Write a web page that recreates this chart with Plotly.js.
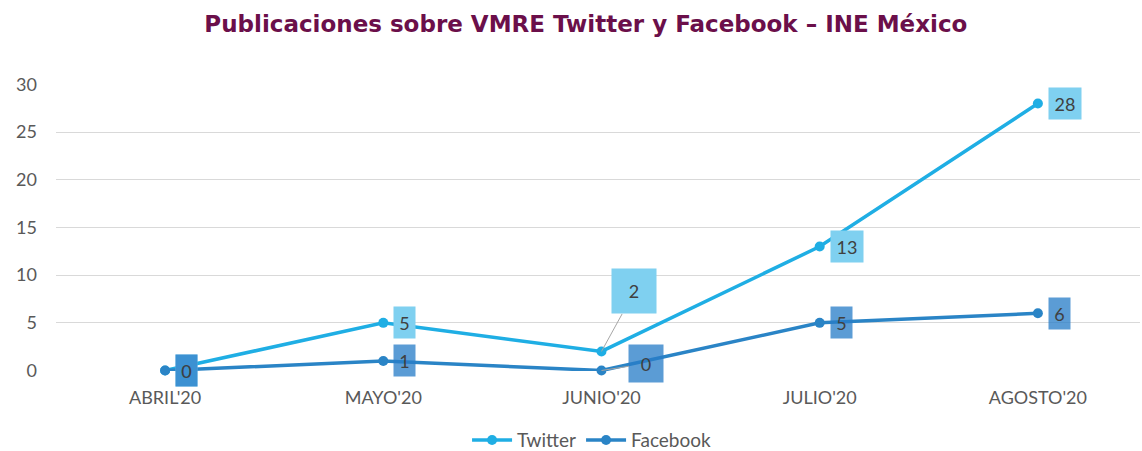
<!DOCTYPE html>
<html>
<head>
<meta charset="utf-8">
<script src="https://cdn.plot.ly/plotly-3.0.1.min.js"></script>
<style>html,body{margin:0;padding:0;background:#fff;}#chart{width:1142px;height:451px;}</style>
</head>
<body>
<div id="chart"></div>
<script>
const months = ["ABRIL'20", "MAYO'20", "JUNIO'20", "JULIO'20", "AGOSTO'20"];
const twitter = [0, 5, 2, 13, 28];
const facebook = [0, 1, 0, 5, 6];
const yTicks = [0, 5, 10, 15, 20, 25, 30];

const twColor = '#1faee4';
const fbColor = '#2a84c6';
const twLabelBg = '#7fd0f0';
const fbLabelBg = 'rgba(40,125,200,0.76)';
const labelFont = {family: 'Lato, "Open Sans", sans-serif', size: 18, color: '#404040'};

const traces = [
  {x: months, y: twitter, name: 'Twitter', type: 'scatter', mode: 'lines+markers',
   line: {color: twColor, width: 3.5}, marker: {color: twColor, size: 10}, cliponaxis: false},
  {x: months, y: facebook, name: 'Facebook', type: 'scatter', mode: 'lines+markers',
   line: {color: fbColor, width: 3.5}, marker: {color: fbColor, size: 10}, cliponaxis: false}
];

function boxWidth(v) { return String(v).length > 1 ? 32 : 21; }

const annotations = [];
twitter.forEach((v, i) => {
  if (i === 2) {
    annotations.push({x: months[i], y: v, text: String(v), showarrow: true, arrowhead: 0,
      arrowwidth: 1, arrowcolor: '#a6a6a6', ax: 33, ay: -60, standoff: 0,
      width: 44, height: 44, bgcolor: twLabelBg, borderpad: 0, font: labelFont});
  } else {
    annotations.push({x: months[i], y: v, text: String(v), showarrow: false,
      xanchor: 'left', yanchor: 'middle', xshift: 10,
      width: boxWidth(v), height: 31, bgcolor: twLabelBg, borderpad: 0, font: labelFont});
  }
});
facebook.forEach((v, i) => {
  if (i === 2) {
    annotations.push({x: months[i], y: v, text: String(v), showarrow: true, arrowhead: 0,
      arrowwidth: 1, arrowcolor: '#a6a6a6', ax: 45, ay: -7, standoff: 0,
      width: 34, height: 37, bgcolor: fbLabelBg, borderpad: 0, font: labelFont});
  } else {
    annotations.push({x: months[i], y: v, text: String(v), showarrow: false,
      xanchor: 'left', yanchor: 'middle', xshift: 10,
      width: boxWidth(v), height: 31, bgcolor: fbLabelBg, borderpad: 0, font: labelFont});
  }
});

const tickFont = {family: 'Lato, "Open Sans", sans-serif', size: 18, color: '#595959'};

const layout = {
  width: 1142, height: 451,
  margin: {l: 56, r: 2, t: 84, b: 80},
  paper_bgcolor: '#ffffff', plot_bgcolor: '#ffffff',
  title: {
    text: '<b>Publicaciones sobre VMRE Twitter y Facebook – INE México</b>',
    font: {family: '"DejaVu Sans", sans-serif', size: 23, color: '#6b0f4a'},
    x: 0.513, xref: 'container', xanchor: 'center',
    y: 0.947, yref: 'container', yanchor: 'middle'
  },
  xaxis: {
    type: 'category', range: [-0.5, 4.468], showgrid: false, zeroline: false,
    showline: false, ticks: '', tickfont: tickFont, ticklabelstandoff: 14
  },
  yaxis: {
    range: [-0.05, 30.05], tickvals: yTicks, ticktext: yTicks.map(String),
    showgrid: true, gridcolor: '#d9d9d9', gridwidth: 1, zeroline: false,
    showline: false, ticks: '', tickfont: tickFont, ticklabelstandoff: 18
  },
  showlegend: true,
  legend: {
    orientation: 'h', x: 0.518, xref: 'container', xanchor: 'center',
    y: 0.024, yref: 'container', yanchor: 'middle',
    font: {family: 'Lato, "Open Sans", sans-serif', size: 19, color: '#595959'},
    itemwidth: 40, tracegroupgap: 0
  },
  annotations: annotations
};

Plotly.newPlot('chart', traces, layout, {displayModeBar: false, staticPlot: true});
</script>
</body>
</html>
